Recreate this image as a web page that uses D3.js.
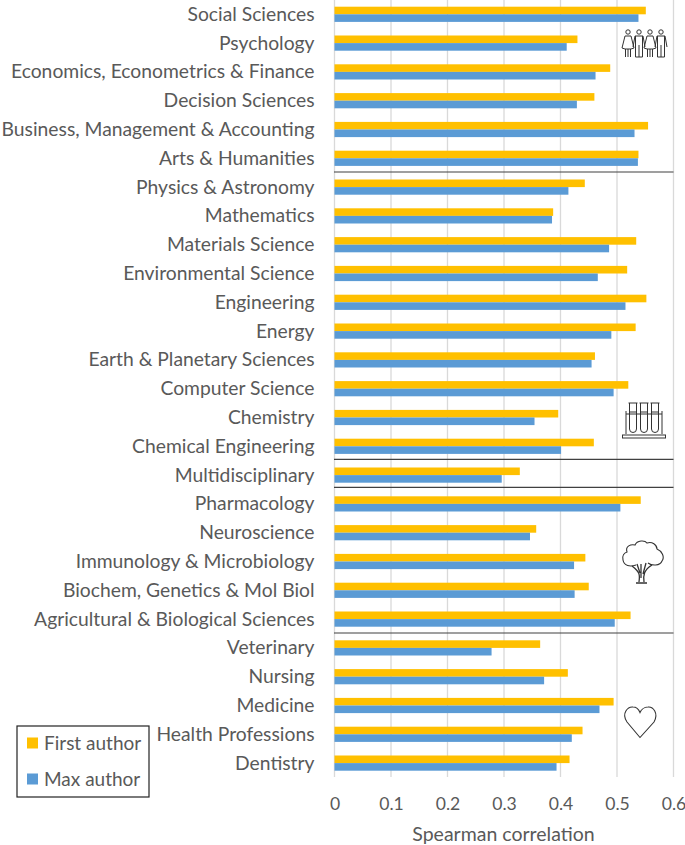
<!DOCTYPE html>
<html><head><meta charset="utf-8">
<script src="https://cdnjs.cloudflare.com/ajax/libs/d3/7.8.5/d3.min.js"></script>
<style>html,body{margin:0;padding:0;background:#fff}svg{display:block}text{font-family:Lato,sans-serif;fill:#595959}</style>
</head><body><svg id="c" width="685" height="845"></svg>
<script>
const categories=["Social Sciences","Psychology","Economics, Econometrics & Finance","Decision Sciences","Business, Management & Accounting","Arts & Humanities","Physics & Astronomy","Mathematics","Materials Science","Environmental Science","Engineering","Energy","Earth & Planetary Sciences","Computer Science","Chemistry","Chemical Engineering","Multidisciplinary","Pharmacology","Neuroscience","Immunology & Microbiology","Biochem, Genetics & Mol Biol","Agricultural & Biological Sciences","Veterinary","Nursing","Medicine","Health Professions","Dentistry"];
const firstAuthor=[0.551,0.43,0.488,0.46,0.555,0.538,0.443,0.387,0.534,0.518,0.552,0.533,0.461,0.52,0.396,0.459,0.328,0.542,0.357,0.444,0.45,0.524,0.364,0.413,0.494,0.439,0.416];
const maxAuthor=[0.538,0.411,0.462,0.429,0.531,0.537,0.414,0.385,0.486,0.466,0.515,0.49,0.455,0.494,0.354,0.401,0.296,0.506,0.346,0.424,0.425,0.496,0.278,0.371,0.469,0.42,0.393];
const xTicks=[0,0.1,0.2,0.3,0.4,0.5,0.6];
const separators=[172,459.3,487.3,633];
const seriesNames=["First author","Max author"];
const seriesColors=["#ffc000","#5b9bd5"];

const svg=d3.select("#c");
const x=d3.scaleLinear().domain([0,0.6]).range([334.5,673.5]);
const y=d3.scaleBand().domain(categories).range([-0.4,777.2]);
const fs=19.3;

svg.append("g").selectAll("line").data(xTicks).join("line")
 .attr("x1",d=>x(d)).attr("x2",d=>x(d)).attr("y1",0).attr("y2",777)
 .attr("stroke","#d9d9d9").attr("stroke-width",1.3);

const axisG=svg.append("g").attr("transform","translate(0,792)")
 .call(d3.axisBottom(x).tickValues(xTicks).tickSize(0).tickPadding(0).tickFormat(d=>d===0?"0":d3.format(".1f")(d)));
axisG.select(".domain").remove();
axisG.selectAll("text").attr("font-size",17.6).attr("dy","0").attr("y",17.5).style("font-family","Lato,sans-serif").style("fill","#595959");

const h=7.6;
const gBars=svg.append("g");
gBars.selectAll("rect.f").data(categories).join("rect").attr("class","f")
 .attr("x",x(0)).attr("y",d=>y(d)+y.bandwidth()/2-h+0.3).attr("height",h)
 .attr("width",(d,i)=>x(firstAuthor[i])-x(0)).attr("fill",seriesColors[0]);
gBars.selectAll("rect.m").data(categories).join("rect").attr("class","m")
 .attr("x",x(0)).attr("y",d=>y(d)+y.bandwidth()/2+0.3).attr("height",h)
 .attr("width",(d,i)=>x(maxAuthor[i])-x(0)).attr("fill",seriesColors[1]);

svg.append("g").selectAll("text").data(categories).join("text")
 .attr("x",314.5).attr("y",d=>y(d)+y.bandwidth()/2+6.8).attr("text-anchor","end")
 .attr("font-size",fs).text(d=>d);

svg.append("g").selectAll("line").data(separators).join("line")
 .attr("x1",334).attr("x2",673.5).attr("y1",d=>d).attr("y2",d=>d)
 .attr("stroke","#404040").attr("stroke-width",1.2);

svg.append("text").attr("x",503.5).attr("y",841).attr("text-anchor","middle").attr("font-size",19.5).text("Spearman correlation");

// legend
svg.append("rect").attr("x",17).attr("y",726).attr("width",132).attr("height",71)
 .attr("fill","#fff").attr("stroke","#222").attr("stroke-width",1.2);
const lg=svg.append("g").selectAll("g").data(seriesNames).join("g")
 .attr("transform",(d,i)=>`translate(0,${743+i*36})`);
lg.append("rect").attr("x",27).attr("y",-5.5).attr("width",11).attr("height",11).attr("fill",(d,i)=>seriesColors[i]);
lg.append("text").attr("x",44).attr("y",6.5).attr("font-size",19).text(d=>d);

// icons
const ink="#333";
const person=(g,cx,female)=>{
  g.append("circle").attr("cx",cx).attr("cy",32).attr("r",2.2);
  if(female){
    g.append("path").attr("d",`M${cx-3},36 L${cx+3},36 L${cx+6},48 L${cx+3},49 L${cx-3},49 L${cx-6},48 Z M${cx-2.5},49 V57 M${cx+2.5},49 V57 M${cx},49 V57`);
  } else {
    g.append("path").attr("d",`M${cx-4},36 H${cx+4} L${cx+6},47 M${cx-4},36 L${cx-6},47 M${cx-3.5},36 V57 H${cx+3.5} V36 M${cx},45 V57`);
  }
};
const pG=svg.append("g").attr("fill","none").attr("stroke",ink).attr("stroke-width",1);
[[628,true],[639,false],[650,true],[661,false]].forEach(([c,f])=>person(pG,c,f));
const tG=svg.append("g").attr("fill","none").attr("stroke",ink).attr("stroke-width",1);
[[633],[644],[655]].forEach(([c])=>{
  tG.append("path").attr("d",`M${c-3.5},403 V429 a3.5,3.5 0 0 0 7,0 V403 M${c-4.5},403 H${c+4.5} M${c-3.5},412 H${c+3.5}`);
});
tG.append("path").attr("d","M626,411 V434 M662,411 V434 M626,414 H662");
tG.append("rect").attr("x",622.5).attr("y",435).attr("width",43).attr("height",3);
const trG=svg.append("g").attr("fill","none").attr("stroke",ink).attr("stroke-width",1.1);
trG.append("path").attr("d","M636,565 C630,567 624,566 623,560 C622,556 624,553 627,552 C625,546 631,544 635,545 C637,540 645,540 647,543 C652,541 657,545 657,549 C662,551 665,557 662,561 C660,566 652,566 648,563");
trG.append("path").attr("stroke-width",1.3).attr("d","M639,582 C640,575 640,572 632,566 M644,582 C643,575 644,570 652,565 M641,578 V564 M643,574 L646,563 M640,573 L637,564 M636,583 H647");
svg.append("path").attr("fill","none").attr("stroke",ink).attr("stroke-width",1.1)
 .attr("d","M640,737.5 L627,722 C621,713 628,706.5 633,707 C637,707 639,710 640,712.5 C641,710 644,707 648,707 C653,706.5 659,713 654,722 Z");
</script></body></html>
